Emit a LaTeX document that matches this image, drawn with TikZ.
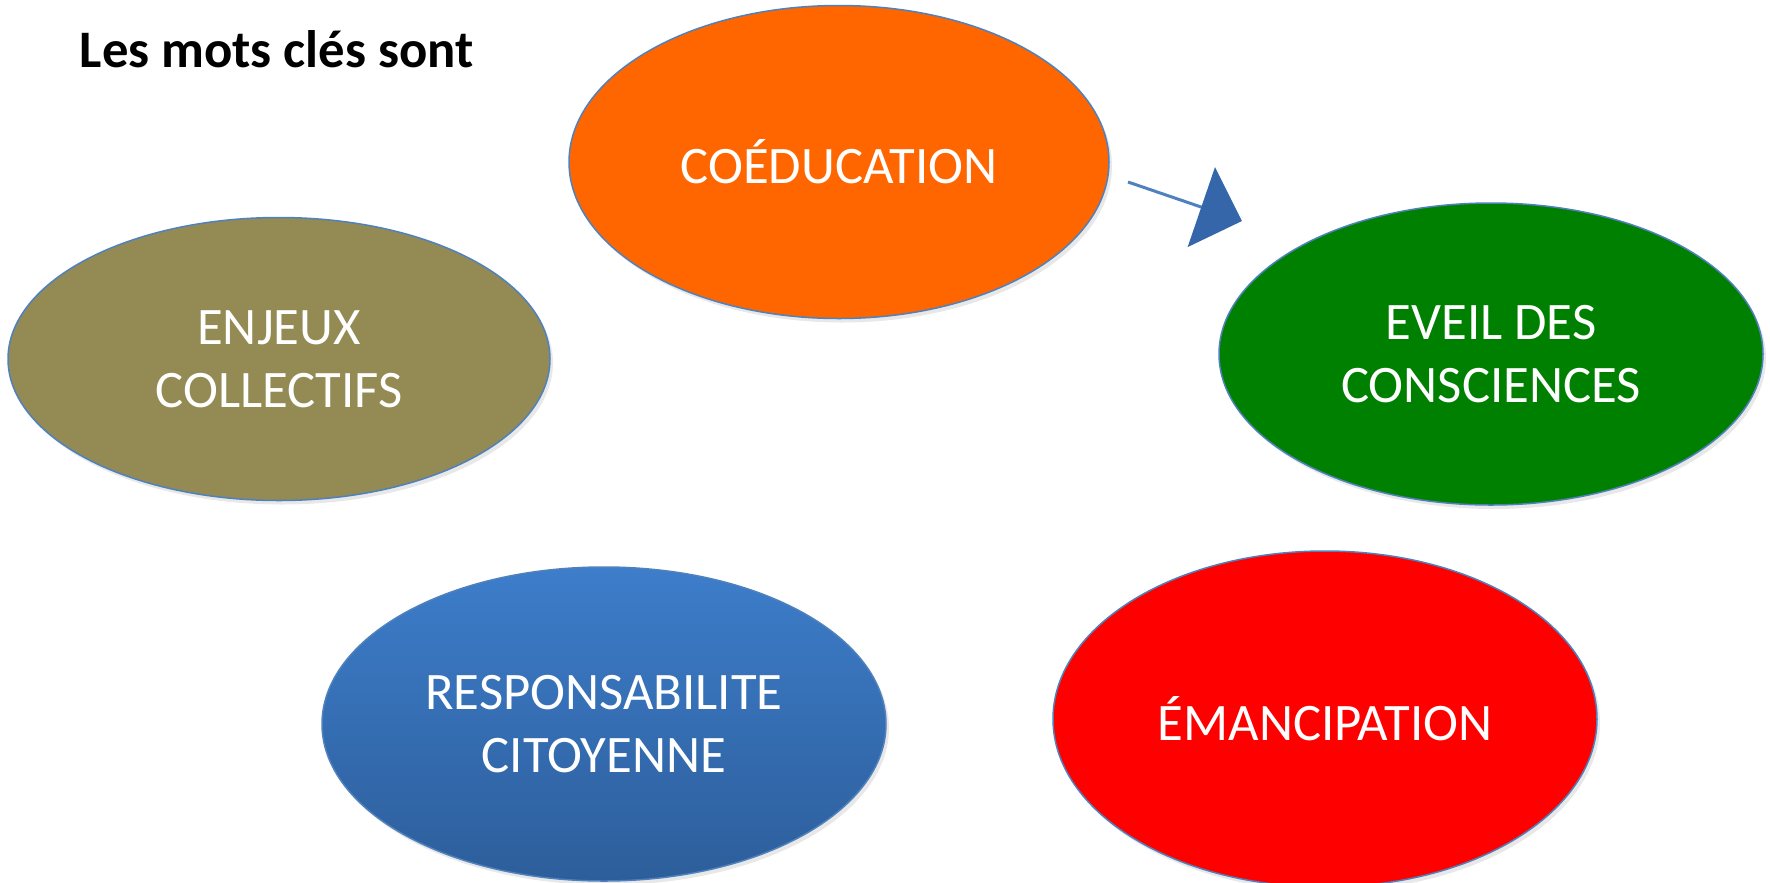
\documentclass[tikz,border=0pt]{standalone}
\usepackage{fontspec}
\setmainfont{Carlito}
\usepackage{tikz}
\usetikzlibrary{shapes.geometric,arrows.meta,shadows}
\definecolor{coedOrange}{HTML}{FF6600}
\definecolor{enjeuxOlive}{HTML}{948A54}
\definecolor{eveilGreen}{HTML}{008000}
\definecolor{emancRed}{HTML}{FF0000}
\definecolor{respTop}{HTML}{3D7DCA}
\definecolor{respBottom}{HTML}{2D5E9B}
\definecolor{rim}{HTML}{4F81BD}
\definecolor{tipblue}{HTML}{3566AA}
\tikzstyle{bubble} = [ellipse, draw=rim, line width=0.15mm, text=white, align=center,
    inner sep=0pt, font=\fontsize{15}{17.8}\selectfont,
    drop shadow={opacity=0.18, shadow xshift=0.3mm, shadow yshift=-0.4mm}]
\tikzstyle{line} = [draw=rim, line width=0.3mm, -{Triangle[length=4.3mm,width=8.4mm,color=tipblue]}]

\begin{document}
\begin{tikzpicture}[x=0.1mm, y=-0.1mm]
    \useasboundingbox (0,0) rectangle (1770,882);
    % Place nodes
    \node [anchor=base west, inner sep=0pt, font=\bfseries\fontsize{15}{18}\selectfont] (titre) at (79,67) {Les mots clés sont};
    \node [bubble, fill=coedOrange, minimum width=54mm, minimum height=31.3mm] (coed) at (839,162) {COÉDUCATION};
    \node [bubble, fill=enjeuxOlive, minimum width=54.2mm, minimum height=28.3mm] (enjeux) at (279,359) {ENJEUX\\COLLECTIFS};
    \node [bubble, fill=eveilGreen, minimum width=54.4mm, minimum height=30.2mm] (eveil) at (1491,354) {EVEIL DES\\CONSCIENCES};
    \node [bubble, top color=respTop, bottom color=respBottom, minimum width=56.4mm, minimum height=31.4mm] (resp) at (604,724) {RESPONSABILITE\\CITOYENNE};
    \node [bubble, fill=emancRed, minimum width=54.4mm, minimum height=33.6mm] (emanc) at (1325,719) {ÉMANCIPATION};
    \coordinate (depart) at (1128,182);
    \coordinate (pointe) at (1242,221);

    % Draw edges
    \path [line] (depart) -- (pointe);
\end{tikzpicture}
\end{document}
